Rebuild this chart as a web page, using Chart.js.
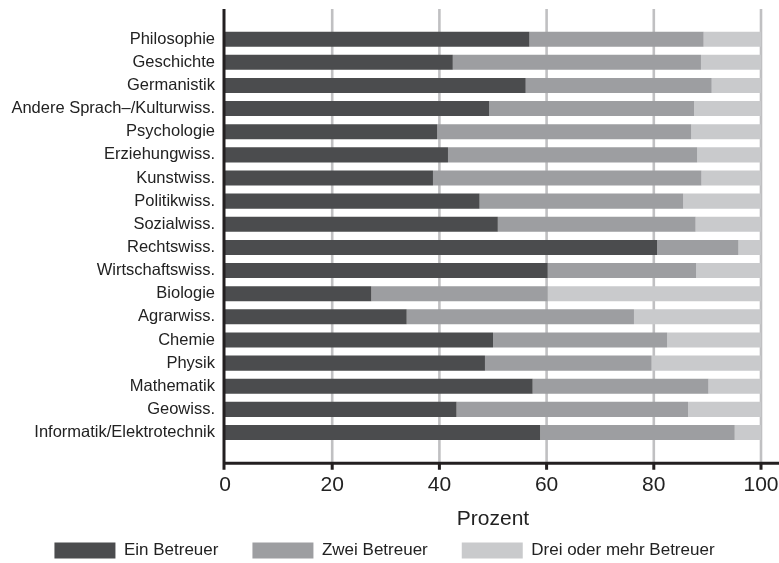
<!DOCTYPE html>
<html>
<head>
<meta charset="utf-8">
<script src="https://cdn.jsdelivr.net/npm/chart.js@4"></script>
<style>
  html, body { margin: 0; padding: 0; background: #fff; }
  #wrap { width: 779px; height: 563px; }
</style>
</head>
<body>
<div id="wrap"><canvas id="betreuerChart" width="779" height="563"></canvas></div>
<script>
const faecher = ['Philosophie', 'Geschichte', 'Germanistik', 'Andere Sprach–/Kulturwiss.', 'Psychologie',
    'Erziehungwiss.', 'Kunstwiss.', 'Politikwiss.', 'Sozialwiss.', 'Rechtswiss.', 'Wirtschaftswiss.',
    'Biologie', 'Agrarwiss.', 'Chemie', 'Physik', 'Mathematik', 'Geowiss.', 'Informatik/Elektrotechnik'];
const einBetreuer = [56.8, 42.5, 56.1, 49.3, 39.6, 41.6, 38.8, 47.5, 50.9, 80.6, 60.2, 27.3, 33.9, 50.0, 48.5, 57.4, 43.2, 58.8];
const zweiBetreuer = [32.5, 46.3, 34.7, 38.2, 47.4, 46.5, 50.1, 38.0, 36.9, 15.2, 27.7, 32.9, 42.4, 32.5, 31.1, 32.8, 43.2, 36.3];
const dreiBetreuer = [10.7, 11.2, 9.2, 12.5, 13.0, 11.9, 11.1, 14.5, 12.2, 4.2, 12.1, 39.8, 23.7, 17.5, 20.4, 9.8, 13.6, 4.9];
const xTicks = [0, 20, 40, 60, 80, 100];

const textColor = '#222';

// gridlines behind bars, axis lines on top (they reach past the plot area like in R)
const axesPlugin = {
    id: 'rAxes',
    beforeDatasetsDraw(chart) {
        const {ctx, chartArea, scales: {x}} = chart;
        ctx.save();
        ctx.strokeStyle = '#c0c0c2';
        ctx.lineWidth = 2.6;
        xTicks.slice(1).forEach(v => {
            const px = x.getPixelForValue(v);
            ctx.beginPath();
            ctx.moveTo(px, chartArea.top - 18.6);
            ctx.lineTo(px, chartArea.bottom + 19);
            ctx.stroke();
        });
        ctx.restore();
    },
    afterDatasetsDraw(chart) {
        const {ctx, chartArea, scales: {x}} = chart;
        const x0 = x.getPixelForValue(0) - 1;
        const yAxis = chartArea.bottom + 19.2;
        ctx.save();
        ctx.strokeStyle = '#231f20';
        ctx.lineWidth = 3;
        ctx.beginPath();
        ctx.moveTo(x0, chartArea.top - 18.6);
        ctx.lineTo(x0, yAxis + 1.5);
        ctx.moveTo(x0 - 1.5, yAxis);
        ctx.lineTo(chart.width, yAxis);
        xTicks.forEach(v => {
            const px = v === 0 ? x0 : x.getPixelForValue(v);
            ctx.moveTo(px, yAxis);
            ctx.lineTo(px, yAxis + 6.5);
        });
        ctx.stroke();
        ctx.restore();
    }
};

new Chart(document.getElementById('betreuerChart').getContext('2d'), {
    type: 'bar',
    data: {
        labels: faecher,
        datasets: [
            {label: 'Ein Betreuer', data: einBetreuer, backgroundColor: '#4b4c4e'},
            {label: 'Zwei Betreuer', data: zweiBetreuer, backgroundColor: '#9d9ea1'},
            {label: 'Drei oder mehr Betreuer', data: dreiBetreuer, backgroundColor: '#c9cacc'}
        ]
    },
    options: {
        indexAxis: 'y',
        responsive: false,
        animation: false,
        datasets: {
            bar: {barPercentage: 0.65, categoryPercentage: 1, borderWidth: 0}
        },
        layout: {
            padding: {left: 8, right: 18, top: 27.6, bottom: -6}
        },
        scales: {
            x: {
                stacked: true,
                min: 0,
                max: 100,
                afterBuildTicks(scale) {
                    scale.ticks = xTicks.map(v => ({value: v}));
                },
                afterFit(scale) {
                    scale.height = 63.9;
                    scale.paddingLeft = 0;
                    scale.paddingRight = 0;
                },
                grid: {display: false, drawTicks: false},
                border: {display: false},
                ticks: {
                    color: textColor,
                    padding: 29,
                    maxRotation: 0,
                    font: {family: 'Liberation Sans, Arial, sans-serif', size: 21}
                },
                title: {
                    display: true,
                    text: 'Prozent',
                    color: textColor,
                    padding: {top: 0, bottom: -24},
                    font: {family: 'Liberation Sans, Arial, sans-serif', size: 21}
                }
            },
            y: {
                stacked: true,
                afterFit(scale) {
                    scale.width = 217;
                },
                grid: {display: false, drawTicks: false},
                border: {display: false},
                ticks: {
                    color: textColor,
                    padding: 10,
                    autoSkip: false,
                    font: {family: 'Liberation Sans, Arial, sans-serif', size: 16.5}
                }
            }
        },
        plugins: {
            legend: {
                position: 'bottom',
                labels: {
                    boxWidth: 61,
                    boxHeight: 16,
                    padding: 34,
                    color: textColor,
                    font: {family: 'Liberation Sans, Arial, sans-serif', size: 17}
                }
            },
            tooltip: {enabled: false}
        }
    },
    plugins: [axesPlugin]
});
</script>
</body>
</html>
